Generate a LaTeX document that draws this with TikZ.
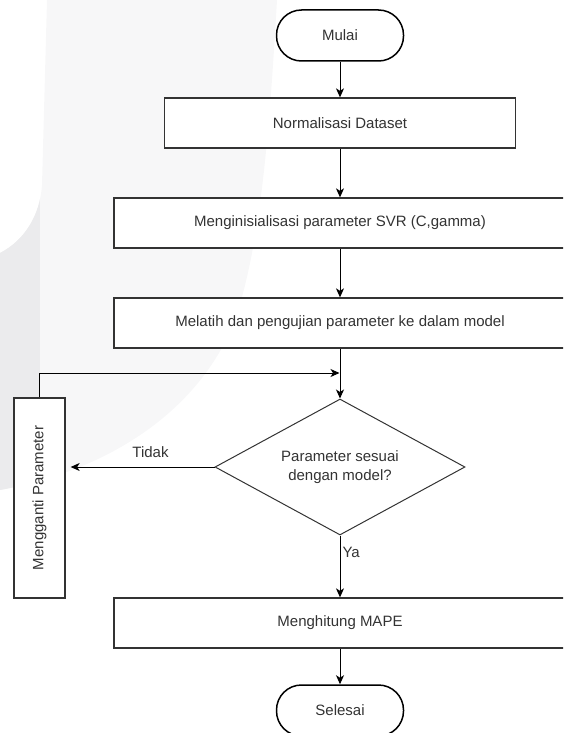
\documentclass[tikz,border=0pt]{standalone}
\usepackage{fontspec}
\setmainfont{Liberation Sans}
\usepackage{graphicx}
\usetikzlibrary{arrows.meta,shapes.geometric}
\definecolor{wmlight}{HTML}{F7F7F8}
\definecolor{wmdark}{HTML}{EBEBED}
\definecolor{txt}{HTML}{333333}
\definecolor{bord}{HTML}{333333}
\begin{document}
\begin{tikzpicture}[x=1pt,y=-1pt,
  fnt/.style={font=\fontsize{15}{19}\selectfont, text=txt},
  box/.style={fnt, draw=bord, line width=1.3pt, fill=white, inner sep=0pt, align=center},
  term/.style={box, draw=black, line width=1.5pt, rounded corners=25pt, minimum width=127pt, minimum height=51pt},
  decision/.style={fnt, draw=bord, line width=1pt, fill=white, diamond, aspect=1.84, inner sep=0pt, align=center, minimum width=250pt, minimum height=136pt},
  flow/.style={draw=black, line width=1pt, -{Stealth[length=9pt,width=8pt,inset=2.5pt]}},
  lbl/.style={fnt, inner sep=0pt}]
\useasboundingbox (0,0) rectangle (563,733);
\clip (0,0) rectangle (563,733);
% watermark
\fill[wmlight] (47,0) -- (277,0)
  .. controls (270,120) and (262,240) .. (235,320)
  .. controls (200,410) and (110,470) .. (0,490)
  -- (0,253) .. controls (25,240) and (40,215) .. (42,185) -- cycle;
\begin{scope}
  \clip (47,0) -- (277,0)
  .. controls (270,120) and (262,240) .. (235,320)
  .. controls (200,410) and (110,470) .. (0,490)
  -- (0,253) .. controls (25,240) and (40,215) .. (42,185) -- cycle;
  \fill[wmdark] (0,0) rectangle (40,733);
\end{scope}
% nodes
\node[term] (mulai) at (340,35.5) {Mulai};
\node[box, minimum width=351pt, minimum height=50pt] (norm) at (340,123) {Normalisasi Dataset};
\node[box, minimum width=452pt, minimum height=50pt] (svr) at (340,223) {Menginisialisasi parameter SVR (C,gamma)};
\node[box, minimum width=452pt, minimum height=50pt] (latih) at (340,323) {Melatih dan pengujian parameter ke dalam model};
\node[decision] (dec) at (340,467) {Parameter sesuai\\dengan model?};
\node[box, minimum width=51pt, minimum height=200pt] (ganti) at (39.5,498) {\rotatebox{90}{Mengganti Parameter}};
\node[box, minimum width=452pt, minimum height=50pt] (mape) at (340,623) {Menghitung MAPE};
\node[term] (selesai) at (340,710.5) {Selesai};
\coordinate (join) at (339.5,373);
% connectors
\draw[flow] (mulai) -- (norm);
\draw[flow] (norm) -- (svr);
\draw[flow] (svr) -- (latih);
\draw[flow] (latih) -- (dec);
\draw[flow] (ganti.north) |- (join);
\draw[flow, shorten >=5pt] (dec.west) -- (dec.west -| ganti.east) node[lbl, pos=0.43, above=9pt] {Tidak};
\draw[flow] (dec) -- (mape) node[lbl, pos=0.28, anchor=west, xshift=2pt] {Ya};
\draw[flow] (mape) -- (selesai);
\end{tikzpicture}
\end{document}
